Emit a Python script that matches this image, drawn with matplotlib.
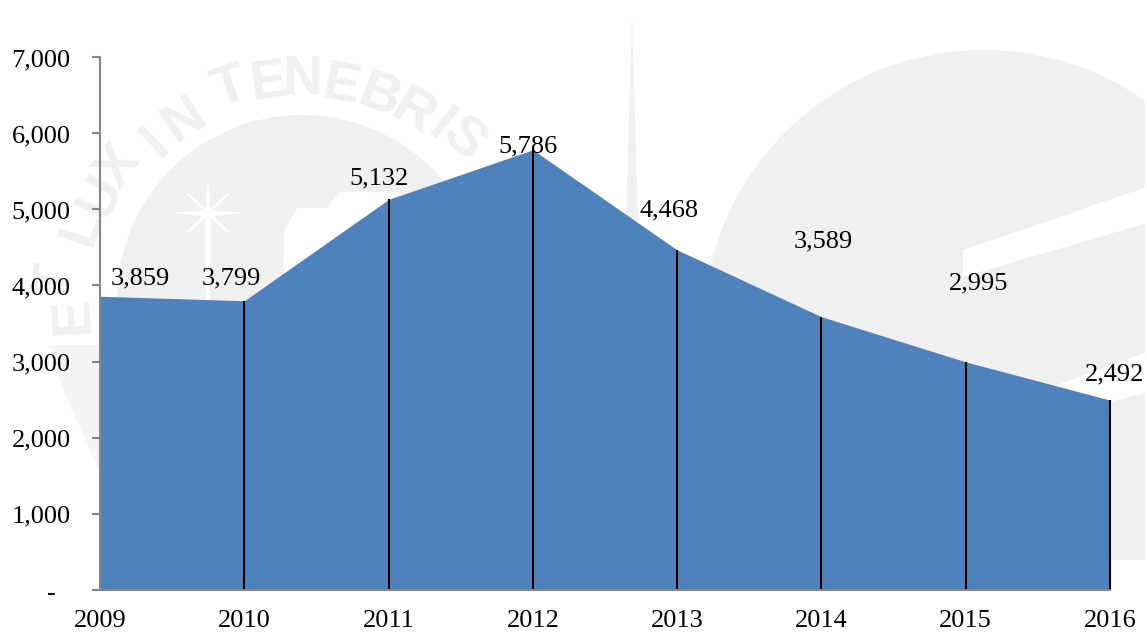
import matplotlib
matplotlib.use("Agg")
import matplotlib.pyplot as plt
from matplotlib.patches import Circle, Polygon, Rectangle
from matplotlib.ticker import FuncFormatter
from matplotlib.transforms import ScaledTranslation
import numpy as np

years = ["2009", "2010", "2011", "2012", "2013", "2014", "2015", "2016"]
values = [3859, 3799, 5132, 5786, 4468, 3589, 2995, 2492]
y_ticks = [0, 1000, 2000, 3000, 4000, 5000, 6000, 7000]
# label offsets from each data point, in pixels (right, up)
label_offsets = [(40, 18), (-13, 22), (-10, 21), (-5, 3), (-8, 39), (2, 75), (13, 78), (5, 26)]

W, H = 1147, 632
plt.rcParams["font.family"] = ["Liberation Serif", "DejaVu Serif"]
fig = plt.figure(figsize=(W / 100, H / 100), dpi=100)

# Faint watermark in pixel coordinates, behind the chart
bg = fig.add_axes([0, 0, 1, 1], zorder=0)
bg.set_xlim(0, W)
bg.set_ylim(H, 0)
bg.axis("off")
WM = "#f0f0f3"
right_disc = Circle((984, 331), 281, color=WM, lw=0)
bg.add_patch(right_disc)
right_disc.set_clip_path(Rectangle((0, 0), 1145, 560, transform=bg.transData))
bg.add_patch(Polygon([(963, 250), (1147, 187), (1147, 223), (963, 277)], color="white", lw=0))
bg.add_patch(Polygon([(1000, 405), (1057, 385), (1145, 353), (1145, 393), (1110, 402), (1080, 420)], color="white", lw=0))
bg.add_patch(Polygon([(50, 345), (105, 345), (105, 485), (90, 450), (63, 390)], color="#f5f5f7", lw=0))
bg.add_patch(Circle((302, 300), 185, color=WM, lw=0))
bg.add_patch(Polygon([(625, 250), (632, 18), (639, 250)], color=WM, lw=0))
# star
sx, sy = 208, 213
bg.add_patch(Polygon([(sx - 3, sy), (sx, sy - 36), (sx + 3, sy), (sx + 2, sy + 90), (sx - 2, sy + 90)], color="white", lw=0))
bg.add_patch(Polygon([(sx, sy - 3), (sx + 37, sy), (sx, sy + 3), (sx - 37, sy)], color="white", lw=0))
bg.plot([sx - 19, sx + 19], [sy - 18, sy + 18], color="white", lw=2)
bg.plot([sx - 19, sx + 19], [sy + 18, sy - 18], color="white", lw=2)
# shield
bg.add_patch(Polygon([(297, 208), (362, 208), (330, 262), (290, 300), (283, 265), (285, 230)], color="white", lw=0))
bg.add_patch(Polygon([(327, 208), (340, 192), (400, 192), (390, 200), (362, 225)], color="white", lw=0))
# arc of motto letters
cx, cy = 302, 300
letters = "ETLUXINTENEBRIS"
spots = [(73, 315), (57, 280), (82, 227), (101, 197), (119, 167), (155, 143), (184, 120), (230, 88),
         (268, 83), (302, 80), (341, 87), (379, 97), (413, 113), (440, 127), (463, 140)]
for ch, (px, py) in zip(letters, spots):
    ang = np.degrees(np.arctan2(cx - px, cy - py))
    bg.text(px, py, ch, family="Liberation Sans", fontsize=40, fontweight="bold", color=WM,
            ha="center", va="center", rotation=ang, rotation_mode="anchor")

ax = fig.add_axes([100 / W, 1 - 589.5 / H, 1010 / W, 532 / H], zorder=1)
ax.patch.set_alpha(0)
x = np.arange(len(years))
ax.fill_between(x, values, 0, color="#4f81bd", lw=0, zorder=2)
ax.vlines(x[1:], 0, values[1:], color="black", lw=1.5, zorder=3, clip_on=False)

ax.set_xlim(0, len(years) - 1)
ax.set_ylim(0, 7000)
ax.set_xticks(x, years)
ax.set_yticks(y_ticks)
ax.yaxis.set_major_formatter(FuncFormatter(lambda v, _: "-" if v == 0 else f"{int(v):,}"))
for s in ("top", "right"):
    ax.spines[s].set_visible(False)
for s in ("left", "bottom"):
    ax.spines[s].set_color("#868686")
    ax.spines[s].set_linewidth(1.5)
    ax.spines[s].set_zorder(4)
ax.tick_params(axis="y", length=6, width=1.5, color="#868686", labelsize=19, pad=15)
ax.tick_params(axis="x", length=0, labelsize=19, pad=15)
dash = ax.get_yticklabels()[0]
dash.set_transform(dash.get_transform() + ScaledTranslation(-15 / 100, -2 / 100, fig.dpi_scale_trans))

for xi, v, (dx, dy) in zip(x, values, label_offsets):
    ax.annotate(f"{v:,}", (xi, v), xytext=(dx * 0.72, dy * 0.72), textcoords="offset points",
                ha="center", va="center", fontsize=19, color="black", zorder=5, annotation_clip=False)

fig.savefig("out.png", dpi=100)
